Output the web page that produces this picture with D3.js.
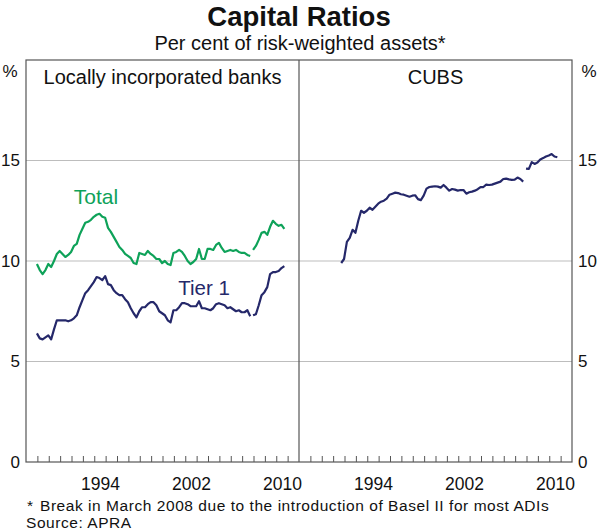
<!DOCTYPE html>
<html>
<head>
<meta charset="utf-8">
<script src="https://cdn.jsdelivr.net/npm/d3@7"></script>
<style>
  body { margin: 0; background: #fff; }
  text { font-family: Arial, "Liberation Sans", sans-serif; }
</style>
</head>
<body>
<svg id="chart" width="600" height="531"></svg>
<script>
// quarterly data
// pre-break series start at the Dec 1988 quarter (CUBS later), post-break start Dec 2007
var preStart = 1988.96;
var cubsStart = 1991.71;
var postStart = 2007.96;

var totalPre = [9.85,9.55,9.35,9.55,9.85,9.7,10.0,10.35,10.5,10.35,10.2,10.3,10.45,10.75,10.85,11.3,
  11.6,11.9,11.95,12.05,12.2,12.3,12.35,12.2,12.15,11.65,11.45,11.2,10.95,10.7,10.55,10.35,10.25,10.15,
  9.9,9.85,10.4,10.35,10.3,10.5,10.35,10.25,10.1,10.1,9.9,10.0,9.85,9.8,10.4,10.45,10.55,10.45,10.25,
  10.0,9.85,9.95,10.1,10.6,10.1,10.1,10.6,10.6,10.55,10.8,10.9,10.65,10.45,10.5,10.55,10.5,10.55,10.45,
  10.4,10.4,10.3,10.25];
var totalPost = [10.55,10.75,11.05,11.4,11.45,11.3,11.7,12.0,11.85,11.75,11.8,11.6];

var tier1Pre = [6.4,6.15,6.1,6.2,6.3,6.1,6.6,7.05,7.05,7.05,7.05,7.0,7.05,7.15,7.3,7.7,8.05,8.4,8.55,
  8.75,8.95,9.2,9.15,9.05,9.25,8.85,8.8,8.55,8.4,8.3,8.3,8.1,7.95,7.65,7.4,7.2,7.5,7.7,7.7,7.85,7.95,
  7.95,7.8,7.5,7.4,7.3,7.05,6.95,7.55,7.55,7.7,7.9,7.9,7.85,7.75,7.75,7.75,8.0,7.65,7.65,7.6,7.55,7.65,
  7.85,7.9,7.85,7.8,7.65,7.7,7.6,7.5,7.55,7.45,7.45,7.55,7.25];
var tier1Post = [7.3,7.35,7.8,8.3,8.45,8.7,9.35,9.45,9.45,9.5,9.65,9.75];

var cubsPre = [9.9,10.1,10.95,11.15,11.55,11.4,12.0,12.5,12.4,12.5,12.65,12.55,12.7,12.85,12.95,13.0,
  13.1,13.3,13.35,13.4,13.38,13.32,13.3,13.25,13.2,13.25,13.27,13.08,13.03,13.25,13.6,13.68,13.7,13.72,
  13.7,13.65,13.78,13.65,13.5,13.58,13.55,13.5,13.53,13.53,13.35,13.42,13.45,13.5,13.57,13.68,13.68,
  13.8,13.78,13.8,13.85,13.9,13.95,14.08,14.1,14.06,14.04,14.05,14.15,14.08,13.95];
var cubsPost = [14.6,14.58,14.92,14.83,14.9,15.05,15.12,15.2,15.25,15.32,15.2,15.16];

var yTicks = [0, 5, 10, 15];
var gridVals = [5, 10, 15];
var yearLabels = [1994, 2002, 2010];

var green = "#0ea259";
var navy = "#25286a";
var ink = "#111";

var svg = d3.select("#chart");

var plotTop = 60, plotBottom = 462;
var y = d3.scaleLinear().domain([0, 20]).range([plotBottom, plotTop]);
var xL = d3.scaleLinear().domain([1988, 2012]).range([26, 299]);
var xR = d3.scaleLinear().domain([1988, 2012]).range([299, 572]);

function toPoints(vals, start) {
    return vals.map(function(v, i) { return [start + i * 0.25, v]; });
}

function styleText(sel, size) {
    sel.attr("font-size", size)
        .attr("fill", ink)
        .style("font-family", "Arial, 'Liberation Sans', sans-serif");
}

function drawPanel(x, title) {
    var g = svg.append("g");

    g.selectAll(".grid")
        .data(gridVals)
        .enter()
        .append("line")
        .attr("x1", x.range()[0])
        .attr("x2", x.range()[1])
        .attr("y1", function(d) { return y(d); })
        .attr("y2", function(d) { return y(d); })
        .attr("stroke", "#bdbdbd")
        .attr("stroke-width", 1);

    // year ticks
    var ax = d3.axisBottom(x)
        .tickValues(d3.range(1989, 2012))
        .tickSize(-6)
        .tickFormat("");
    var axG = g.append("g").attr("transform", "translate(0," + plotBottom + ")").call(ax);
    axG.select(".domain").remove();
    axG.selectAll("line").attr("stroke", "#555");

    var lab = d3.axisBottom(x)
        .tickValues(yearLabels.map(function(d) { return d + 0.5; }))
        .tickSize(0)
        .tickFormat(function(d) { return Math.floor(d); });
    var labG = g.append("g").attr("transform", "translate(0," + (plotBottom + 13) + ")").call(lab);
    labG.select(".domain").remove();
    styleText(labG.selectAll("text"), 17.5);

    g.append("text")
        .attr("x", (x.range()[0] + x.range()[1]) / 2)
        .attr("y", 84)
        .attr("text-anchor", "middle")
        .call(styleText, 20)
        .text(title);
}

drawPanel(xL, "Locally incorporated banks");
drawPanel(xR, "CUBS");

var line = function(x) {
    return d3.line()
        .x(function(d) { return x(d[0]); })
        .y(function(d) { return y(d[1]); });
};

var series = [
    { x: xL, pts: toPoints(totalPre, preStart), color: green },
    { x: xL, pts: toPoints(totalPost, postStart), color: green },
    { x: xL, pts: toPoints(tier1Pre, preStart), color: navy },
    { x: xL, pts: toPoints(tier1Post, postStart), color: navy },
    { x: xR, pts: toPoints(cubsPre, cubsStart), color: navy },
    { x: xR, pts: toPoints(cubsPost, postStart), color: navy }
];

svg.selectAll(".series")
    .data(series)
    .enter()
    .append("path")
    .attr("class", "series")
    .attr("d", function(d) { return line(d.x)(d.pts); })
    .attr("fill", "none")
    .attr("stroke", function(d) { return d.color; })
    .attr("stroke-width", 2.2)
    .attr("stroke-linejoin", "round");

// frame
svg.append("rect")
    .attr("x", 26).attr("y", plotTop)
    .attr("width", 572 - 26).attr("height", plotBottom - plotTop)
    .attr("fill", "none").attr("stroke", "#555").attr("stroke-width", 1.2);
svg.append("line")
    .attr("x1", 299).attr("x2", 299).attr("y1", plotTop).attr("y2", plotBottom)
    .attr("stroke", "#555").attr("stroke-width", 1.2);

// y labels both sides
var yl = d3.axisLeft(y).tickValues(yTicks).tickSize(0).tickPadding(6);
var ylG = svg.append("g").attr("transform", "translate(26,0)").call(yl);
var yr = d3.axisRight(y).tickValues(yTicks).tickSize(0).tickPadding(6);
var yrG = svg.append("g").attr("transform", "translate(572,0)").call(yr);
[ylG, yrG].forEach(function(a) {
    a.select(".domain").remove();
    styleText(a.selectAll("text"), 17);
});

svg.append("text").attr("x", 10).attr("y", 77).attr("text-anchor", "middle")
    .call(styleText, 17).text("%");
svg.append("text").attr("x", 589).attr("y", 77).attr("text-anchor", "middle")
    .call(styleText, 17).text("%");

// titles
svg.append("text").attr("x", 299).attr("y", 26).attr("text-anchor", "middle")
    .call(styleText, 27.5).attr("font-weight", "bold").text("Capital Ratios");
svg.append("text").attr("x", 300).attr("y", 50).attr("text-anchor", "middle")
    .call(styleText, 20).text("Per cent of risk-weighted assets*");

// series labels
svg.append("text").attr("x", 96).attr("y", 204).attr("text-anchor", "middle")
    .call(styleText, 21).attr("fill", green).text("Total");
svg.append("text").attr("x", 204).attr("y", 295).attr("text-anchor", "middle")
    .call(styleText, 20.5).attr("fill", navy).text("Tier 1");

// notes
svg.append("text").attr("x", 27).attr("y", 511)
    .call(styleText, 15.5).text("*");
svg.append("text").attr("x", 40).attr("y", 511)
    .call(styleText, 15.5)
    .attr("letter-spacing", 0.55)
    .text("Break in March 2008 due to the introduction of Basel II for most ADIs");
svg.append("text").attr("x", 26).attr("y", 528)
    .call(styleText, 15.5)
    .attr("letter-spacing", 0.55)
    .text("Source: APRA");
</script>
</body>
</html>
